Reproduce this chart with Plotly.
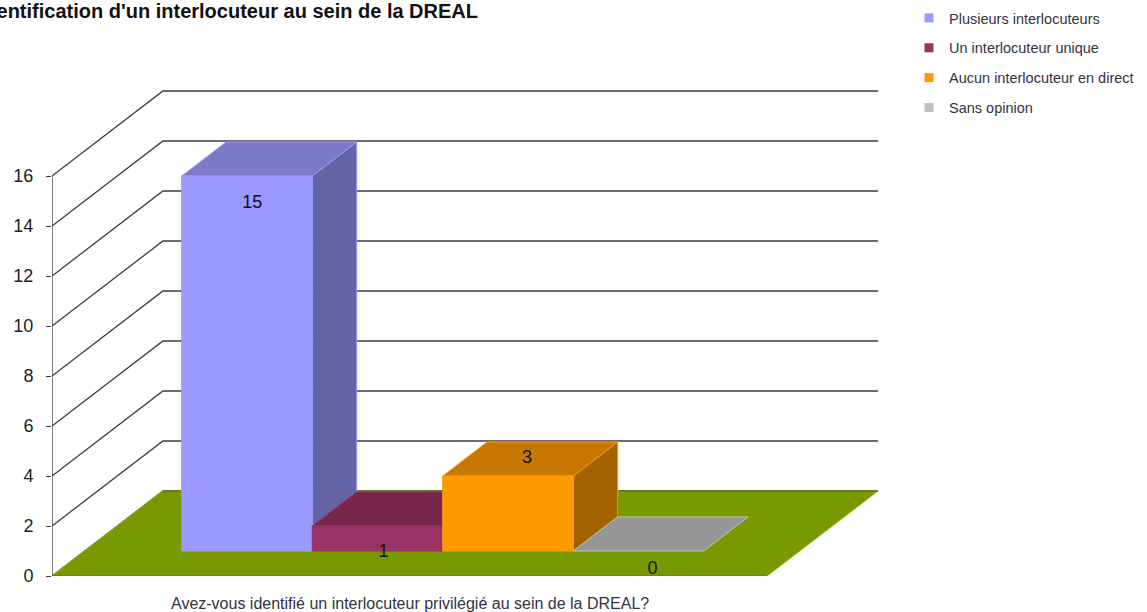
import plotly.graph_objects as go

# --- data ---
title_text = "Identification d'un interlocuteur au sein de la DREAL"
axis_text = "Avez-vous identifié un interlocuteur privilégié au sein de la DREAL?"
series_names = ["Plusieurs interlocuteurs", "Un interlocuteur unique", "Aucun interlocuteur en direct", "Sans opinion"]
series_values = [15, 1, 3, 0]
series_colors = ["#9999FF", "#993366", "#FF9900", "#C0C0C0"]
top_colors = ["#7A7AC6", "#77264C", "#C67800", "#969696"]
side_colors = ["#6363A5", "#632144", "#A56300", "#7D7D7D"]
y_ticks = [0, 2, 4, 6, 8, 10, 12, 14, 16]

# --- oblique projection (category units / value units) ---
DEPTH_X = 0.85      # horizontal shift of the full floor depth, in categories
DEPTH_Y = 3.4       # vertical shift of the full floor depth, in value units
BAR_D0, BAR_D1 = 0.294, 0.695
BAR_W = 1.0
FLOOR_X0, FLOOR_X1 = -1.494, 3.985
label_dx = [0.04, 0.046, 0.146, 0.107]
label_dy = [-0.08, -0.04, 1.72, 0.28]


def proj(x, v, d):
    return x + d * DEPTH_X, v + d * DEPTH_Y


def cx(i):
    return i - BAR_D0 * DEPTH_X


def poly(points, fill, line, width=1):
    xs = [p[0] for p in points] + [points[0][0]]
    ys = [p[1] for p in points] + [points[0][1]]
    return go.Scatter(x=xs, y=ys, mode="lines", fill="toself", fillcolor=fill,
                      line=dict(color=line, width=width), showlegend=False,
                      hoverinfo="skip", cliponaxis=False)


fig = go.Figure()

# back wall and left wall gridlines
GRID = "#3C3C3C"
for t in y_ticks:
    a = proj(FLOOR_X0, t, 0)
    b = proj(FLOOR_X0, t, 1)
    c = proj(FLOOR_X1, t, 1)
    fig.add_trace(go.Scatter(x=[a[0], b[0], c[0]], y=[a[1], b[1], c[1]], mode="lines",
                             line=dict(color=GRID, width=1.3), showlegend=False,
                             hoverinfo="skip", cliponaxis=False))

# floor
fig.add_trace(poly([proj(FLOOR_X0, 0, 0), proj(FLOOR_X0, 0, 1), proj(FLOOR_X1, 0, 1), proj(FLOOR_X1, 0, 0)],
                   "#789A00", "#8CB400"))
for d in (0, 1):
    p, q = proj(FLOOR_X0, 0, d), proj(FLOOR_X1, 0, d)
    fig.add_trace(go.Scatter(x=[p[0], q[0]], y=[p[1], q[1]], mode="lines",
                             line=dict(color="#55601F", width=1.2), showlegend=False,
                             hoverinfo="skip", cliponaxis=False))

# vertical value axis
a0, a1 = proj(FLOOR_X0, y_ticks[0], 0), proj(FLOOR_X0, y_ticks[-1], 0)
fig.add_trace(go.Scatter(x=[a0[0], a1[0]], y=[a0[1], a1[1]], mode="lines",
                         line=dict(color=GRID, width=1.3), showlegend=False,
                         hoverinfo="skip", cliponaxis=False))

# bars
for i, (v, f, tp, sd) in enumerate(zip(series_values, series_colors, top_colors, side_colors)):
    x0 = cx(i) - 0.5
    x1 = x0 + BAR_W
    fl, fr = proj(x0, 0, BAR_D0), proj(x1, 0, BAR_D0)
    tl, tr = proj(x0, v, BAR_D0), proj(x1, v, BAR_D0)
    bl, br = proj(x0, v, BAR_D1), proj(x1, v, BAR_D1)
    sb = proj(x1, 0, BAR_D1)
    if v > 0:
        fig.add_trace(poly([fr, tr, br, sb], sd, f))
    fig.add_trace(poly([tl, tr, br, bl], tp, f))
    if v > 0:
        fig.add_trace(poly([fl, fr, tr, tl], f, f))

# data labels
lx = [i + label_dx[i] for i in range(len(series_values))]
ly = [v + label_dy[i] for i, v in enumerate(series_values)]
lt = [str(v) for v in series_values]
fig.add_trace(go.Scatter(x=lx, y=ly, mode="text", text=lt, textposition="middle center",
                         textfont=dict(size=18, color="#111111", family="Liberation Sans"),
                         showlegend=False, hoverinfo="skip", cliponaxis=False))

# legend entries
for name, col in zip(series_names, series_colors):
    fig.add_trace(go.Scatter(x=[None], y=[None], mode="markers", name=name, legendgroup=name,
                             marker=dict(symbol="square", size=9, color=col)))

W, H = 1147, 612
ML, MB = 52, 36
PW, PH = W - ML, H - MB
X_PX_PER_UNIT = 130.5
Y_PX_PER_UNIT = 25

fig.update_layout(
    width=W, height=H,
    margin=dict(l=ML, r=0, t=0, b=MB, autoexpand=False),
    paper_bgcolor="white", plot_bgcolor="white",
    font=dict(family="Liberation Sans", color="#222222"),
    title=dict(text=title_text, x=(478 - ML) / PW, xref="paper", xanchor="right",
               y=1 - 11 / H, yref="container", yanchor="middle",
               font=dict(size=20, color="#111111", family="Liberation Sans", weight="bold"), automargin=False),
    xaxis=dict(range=[FLOOR_X0, FLOOR_X0 + PW / X_PX_PER_UNIT], visible=False, fixedrange=True),
    yaxis=dict(range=[0, PH / Y_PX_PER_UNIT], tickmode="array", tickvals=y_ticks,
               showgrid=False, zeroline=False, showline=False, ticks="outside", ticklen=5,
               tickcolor=GRID, tickfont=dict(size=18, color="#222222"), ticklabelstandoff=9, fixedrange=True),
    legend=dict(x=(909 - ML) / PW, xanchor="left", y=1 - 2 / PH, yanchor="top", xref="paper", yref="paper",
                tracegroupgap=8, font=dict(size=14.5, color="#333344"), bgcolor="rgba(0,0,0,0)",
                itemclick=False, itemdoubleclick=False),
    annotations=[dict(text=axis_text, xref="paper", yref="paper", x=(410 - ML) / PW, y=-(603 - (H - MB)) / PH,
                      xanchor="center", yanchor="middle", showarrow=False,
                      font=dict(size=16, color="#333344"))],
)

fig.write_html("out.html", config=dict(displayModeBar=False),
               post_script="document.body.style.margin='0';document.body.style.overflow='hidden';")
